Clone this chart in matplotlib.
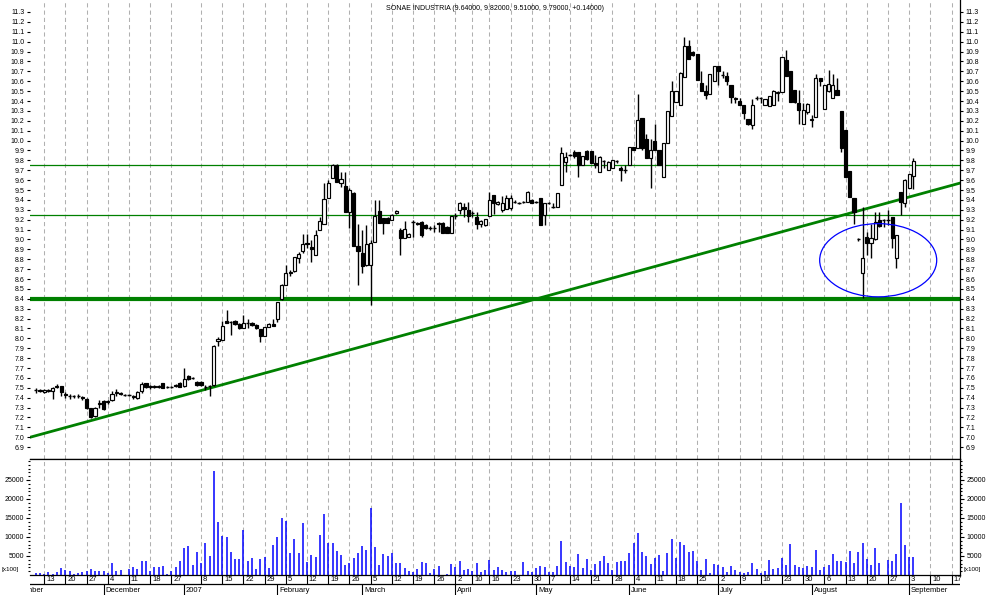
import numpy as np
import pandas as pd
import matplotlib
matplotlib.use("Agg")
import matplotlib.pyplot as plt
from matplotlib.patches import Ellipse

plt.rcParams['font.family'] = ['Liberation Sans', 'DejaVu Sans']

# ---- data ----
title = "SONAE INDUSTRIA (9.64000, 9.82000, 9.51000, 9.79000, +0.14000)"

holidays = ["2006-12-25", "2006-12-26", "2007-01-01", "2007-04-06", "2007-04-09", "2007-05-01"]
first_bar = "2006-11-09"

opens = [
    7.48, 7.48, 7.46, 7.47, 7.47, 7.51, 7.52, 7.44, 7.42, 7.42,
    7.42, 7.41, 7.39, 7.30, 7.22, 7.34, 7.37, 7.36, 7.38, 7.45,
    7.45, 7.43, 7.43, 7.42, 7.40, 7.47, 7.55, 7.51, 7.52, 7.51,
    7.55, 7.51, 7.51, 7.52, 7.55, 7.52, 7.62, 7.60, 7.56, 7.56,
    7.51, 7.52, 7.53, 7.97, 7.98, 8.18, 8.17, 8.18, 8.15, 8.10,
    8.16, 8.16, 8.14, 8.09, 8.02, 8.12, 8.15, 8.20, 8.40, 8.54,
    8.67, 8.68, 8.81, 8.88, 8.96, 8.92, 8.84, 9.10, 9.16, 9.42,
    9.62, 9.75, 9.57, 9.54, 9.28, 9.47, 8.93, 8.86, 8.74, 8.74,
    8.97, 9.29, 9.22, 9.22, 9.20, 9.27, 9.10, 9.01, 9.03, 9.18,
    9.17, 9.18, 9.15, 9.12, 9.12, 9.17, 9.17, 9.13, 9.07, 9.24,
    9.30, 9.33, 9.30, 9.27, 9.23, 9.16, 9.15, 9.24, 9.45, 9.36,
    9.30, 9.31, 9.32, 9.38, 9.37, 9.38, 9.38, 9.40, 9.38, 9.42,
    9.25, 9.37, 9.33, 9.33, 9.55, 9.78, 9.85, 9.88, 9.88, 9.75,
    9.89, 9.89, 9.77, 9.68, 9.79, 9.70, 9.72, 9.79, 9.72, 9.70,
    9.75, 9.93, 9.92, 10.23, 10.02, 9.82, 10.00, 9.90, 9.63, 9.98,
    10.25, 10.39, 10.36, 10.64, 10.96, 10.90, 10.88, 10.58, 10.50, 10.47,
    10.60, 10.75, 10.66, 10.65, 10.56, 10.42, 10.40, 10.36, 10.22, 10.16,
    10.43, 10.43, 10.36, 10.35, 10.36, 10.48, 10.49, 10.81, 10.70, 10.51,
    10.38, 10.17, 10.29, 10.21, 10.24, 10.63, 10.32, 10.50, 10.43, 10.51,
    10.30, 10.11, 9.69, 9.42, 9.00, 8.66, 9.03, 8.96, 9.00, 9.20,
    9.20, 9.20, 9.23, 8.81, 9.48, 9.37, 9.52, 9.64,
]
highs = [
    7.50, 7.49, 7.49, 7.49, 7.51, 7.54, 7.52, 7.46, 7.44, 7.43,
    7.44, 7.42, 7.40, 7.30, 7.31, 7.38, 7.38, 7.38, 7.47, 7.49,
    7.46, 7.44, 7.44, 7.43, 7.47, 7.56, 7.55, 7.53, 7.53, 7.53,
    7.55, 7.52, 7.52, 7.54, 7.56, 7.70, 7.63, 7.61, 7.57, 7.57,
    7.53, 7.53, 7.93, 8.01, 8.18, 8.29, 8.18, 8.19, 8.16, 8.24,
    8.20, 8.17, 8.15, 8.09, 8.12, 8.16, 8.20, 8.37, 8.55, 8.74,
    8.69, 8.82, 8.87, 9.06, 9.06, 8.99, 9.10, 9.23, 9.57, 9.60,
    9.76, 9.76, 9.68, 9.68, 9.52, 9.48, 9.16, 9.10, 9.15, 8.99,
    9.40, 9.40, 9.22, 9.23, 9.26, 9.30, 9.12, 9.19, 9.07, 9.20,
    9.18, 9.19, 9.16, 9.14, 9.15, 9.18, 9.18, 9.14, 9.24, 9.27,
    9.38, 9.37, 9.38, 9.29, 9.28, 9.20, 9.21, 9.48, 9.45, 9.39,
    9.44, 9.45, 9.45, 9.40, 9.38, 9.39, 9.49, 9.41, 9.39, 9.42,
    9.37, 9.38, 9.37, 9.47, 9.94, 9.88, 9.86, 9.90, 9.88, 9.84,
    9.90, 9.89, 9.85, 9.84, 9.80, 9.79, 9.80, 9.80, 9.74, 9.75,
    9.93, 9.93, 10.47, 10.23, 10.07, 10.02, 10.17, 9.90, 9.98, 10.30,
    10.60, 10.50, 10.69, 11.05, 11.02, 10.91, 10.88, 10.70, 10.56, 10.67,
    10.75, 10.75, 10.70, 10.69, 10.56, 10.44, 10.43, 10.36, 10.22, 10.42,
    10.45, 10.44, 10.42, 10.45, 10.51, 10.50, 10.85, 10.92, 10.70, 10.51,
    10.51, 10.38, 10.38, 10.26, 10.67, 10.63, 10.56, 10.71, 10.67, 10.63,
    10.30, 10.11, 9.69, 9.42, 9.01, 9.33, 9.08, 9.16, 9.28, 9.28,
    9.21, 9.30, 9.23, 9.05, 9.48, 9.61, 9.66, 9.82,
]
lows = [
    7.45, 7.46, 7.45, 7.46, 7.39, 7.50, 7.42, 7.40, 7.39, 7.40,
    7.40, 7.38, 7.29, 7.19, 7.20, 7.30, 7.28, 7.34, 7.37, 7.42,
    7.43, 7.42, 7.42, 7.39, 7.39, 7.45, 7.50, 7.49, 7.50, 7.50,
    7.50, 7.50, 7.50, 7.51, 7.51, 7.51, 7.58, 7.59, 7.52, 7.52,
    7.48, 7.42, 7.52, 7.92, 7.98, 8.16, 8.03, 8.14, 8.09, 8.10,
    8.10, 8.13, 8.09, 7.96, 8.02, 8.12, 8.13, 8.17, 8.39, 8.54,
    8.63, 8.67, 8.76, 8.86, 8.91, 8.77, 8.84, 9.10, 9.16, 9.42,
    9.62, 9.58, 9.53, 9.28, 9.12, 8.93, 8.54, 8.66, 8.73, 8.34,
    8.97, 9.17, 9.06, 9.17, 9.20, 9.26, 8.84, 9.01, 9.02, 9.03,
    9.15, 9.02, 9.11, 9.10, 9.08, 9.08, 9.07, 9.07, 9.07, 9.21,
    9.26, 9.23, 9.18, 9.23, 9.11, 9.13, 9.14, 9.24, 9.26, 9.35,
    9.28, 9.31, 9.30, 9.37, 9.36, 9.37, 9.38, 9.37, 9.37, 9.15,
    9.15, 9.36, 9.32, 9.33, 9.55, 9.68, 9.84, 9.82, 9.63, 9.75,
    9.80, 9.77, 9.72, 9.68, 9.72, 9.70, 9.72, 9.77, 9.59, 9.67,
    9.75, 9.90, 9.92, 9.90, 9.82, 9.52, 9.90, 9.75, 9.63, 9.98,
    10.25, 10.39, 10.36, 10.64, 10.82, 10.86, 10.61, 10.50, 10.42, 10.47,
    10.60, 10.56, 10.63, 10.56, 10.38, 10.38, 10.36, 10.22, 10.16, 10.12,
    10.41, 10.38, 10.36, 10.35, 10.36, 10.40, 10.49, 10.65, 10.39, 10.38,
    10.17, 10.17, 10.27, 10.14, 10.24, 10.55, 10.32, 10.49, 10.43, 10.46,
    9.88, 9.63, 9.43, 9.16, 8.98, 8.41, 8.84, 8.81, 8.99, 9.13,
    9.13, 9.15, 8.91, 8.71, 9.25, 9.33, 9.52, 9.51,
]
closes = [
    7.48, 7.47, 7.48, 7.48, 7.50, 7.52, 7.46, 7.43, 7.42, 7.42,
    7.42, 7.40, 7.30, 7.21, 7.30, 7.35, 7.29, 7.37, 7.44, 7.46,
    7.44, 7.43, 7.43, 7.41, 7.46, 7.54, 7.51, 7.52, 7.51, 7.52,
    7.50, 7.51, 7.51, 7.53, 7.51, 7.59, 7.59, 7.60, 7.53, 7.53,
    7.51, 7.52, 7.92, 7.99, 8.13, 8.16, 8.17, 8.15, 8.10, 8.16,
    8.16, 8.14, 8.10, 8.02, 8.12, 8.15, 8.13, 8.37, 8.54, 8.66,
    8.66, 8.82, 8.85, 8.95, 8.95, 8.90, 9.05, 9.19, 9.41, 9.57,
    9.75, 9.58, 9.61, 9.28, 9.50, 8.93, 8.88, 8.73, 8.95, 8.96,
    9.24, 9.17, 9.17, 9.17, 9.25, 9.29, 9.01, 9.11, 9.06, 9.18,
    9.16, 9.05, 9.12, 9.12, 9.12, 9.16, 9.07, 9.07, 9.24, 9.24,
    9.37, 9.31, 9.24, 9.27, 9.16, 9.19, 9.21, 9.40, 9.37, 9.38,
    9.37, 9.42, 9.42, 9.38, 9.37, 9.38, 9.48, 9.37, 9.38, 9.15,
    9.37, 9.37, 9.33, 9.47, 9.87, 9.83, 9.85, 9.84, 9.75, 9.84,
    9.81, 9.77, 9.75, 9.83, 9.79, 9.78, 9.80, 9.79, 9.70, 9.70,
    9.93, 9.90, 10.21, 9.92, 9.82, 9.90, 9.90, 9.75, 9.98, 10.30,
    10.50, 10.50, 10.68, 10.96, 10.82, 10.87, 10.61, 10.50, 10.46, 10.67,
    10.75, 10.70, 10.66, 10.60, 10.44, 10.43, 10.36, 10.28, 10.17, 10.36,
    10.43, 10.43, 10.42, 10.45, 10.50, 10.49, 10.85, 10.65, 10.39, 10.39,
    10.31, 10.31, 10.37, 10.22, 10.63, 10.60, 10.56, 10.57, 10.56, 10.46,
    9.92, 9.63, 9.43, 9.28, 9.00, 8.81, 8.96, 9.01, 9.18, 9.14,
    9.20, 9.20, 9.01, 9.05, 9.38, 9.60, 9.66, 9.79,
]
volumes = [
    500, 500, 260, 800, 260, 800, 1840, 1300, 1050, 260,
    500, 800, 1050, 1580, 1050, 1050, 1050, 500, 3160, 1050,
    1300, 100, 1580, 2100, 1580, 3680, 3680, 1050, 2100, 2100,
    2370, 260, 1050, 2100, 3680, 7100, 7630, 2630, 6050, 3160,
    8420, 5000, 27360, 13950, 10260, 10000, 6050, 4210, 4210, 11840,
    3680, 4470, 1580, 4210, 4740, 1840, 7890, 10000, 15000, 14200,
    5790, 9470, 5790, 13680, 3420, 5260, 4740, 10520, 16050, 8420,
    8420, 6310, 5260, 2630, 3160, 4470, 5790, 7630, 6580, 17630,
    7370, 2630, 5520, 5000, 5790, 3160, 3160, 1840, 1050, 800,
    1580, 3420, 3160, 500, 1580, 2370, 0, 260, 2890, 2100,
    3680, 1300, 1580, 1050, 3160, 800, 1300, 3950, 1300, 2100,
    1300, 800, 1050, 1050, 0, 3420, 1050, 800, 1840, 2370,
    2100, 800, 800, 2370, 8950, 3420, 2370, 2100, 5520, 1840,
    4210, 1300, 2890, 3680, 5000, 3160, 1300, 3420, 3680, 3680,
    5790, 8420, 11050, 6050, 5000, 2890, 4470, 5260, 1050, 5790,
    9470, 4470, 8680, 7890, 6050, 6310, 3680, 1300, 4210, 500,
    2890, 2630, 2100, 800, 2370, 1300, 800, 500, 800, 3160,
    1580, 500, 1050, 3950, 1580, 1840, 4470, 2630, 8160, 2630,
    2100, 1840, 2370, 2100, 6580, 1300, 2100, 2630, 5520, 3680,
    3680, 3420, 6310, 3160, 6050, 8420, 4210, 2630, 7100, 3160,
    100, 3950, 3680, 5520, 18940, 7890, 4740, 4740,
]

support_level = 8.40
resistance_levels = [9.75, 9.25]
trend_start, trend_end = 7.00, 9.57
ellipse_center = (198.7, 8.79)
ellipse_size = (27.6, 0.74)

month_names = {11: "November", 12: "December", 1: "2007", 2: "February", 3: "March",
               4: "April", 5: "May", 6: "June", 7: "July", 8: "August", 9: "September"}

# ---- trading calendar ----
cal = pd.bdate_range("2006-11-01", "2007-09-21")
cal = cal[~cal.isin(pd.to_datetime(holidays))]
shift = int(np.where(cal == pd.Timestamp(first_bar))[0][0])
pos = np.arange(len(cal)) - shift

week_pos, week_lab = [], []
month_pos, month_lab = [], []
for k in range(1, len(cal)):
    d, prev = cal[k], cal[k - 1]
    if d.month != prev.month:
        month_pos.append(pos[k])
        month_lab.append(month_names[d.month])
    if d.isocalendar()[1] != prev.isocalendar()[1] and pos[k] > 0:
        if d.year != prev.year:
            continue
        week_pos.append(pos[k])
        week_lab.append(str(d.day))
month_pos.insert(0, pos[0] - 1)
month_lab.insert(0, month_names[11])

# ---- figure ----
W, H = 994, 595
fig = plt.figure(figsize=(W / 100, H / 100), dpi=100)
x0, x1 = 30, 960
xlim = ((x0 - 35.7) / 4.24, (x1 - 35.7) / 4.24)

ax_p = fig.add_axes([x0 / W, (H - 459) / H, (x1 - x0) / W, 459 / H])
ax_v = fig.add_axes([x0 / W, (H - 575) / H, (x1 - x0) / W, 116 / H])
ax_d = fig.add_axes([x0 / W, 0, (x1 - x0) / W, 20 / H])

green = "#008000"
grid_kw = dict(color="#b0b0b0", lw=0.75, linestyles=(0, (4, 3)), zorder=0)

# price panel
ax_p.set_xlim(*xlim)
ax_p.set_ylim(11.3 - 447 / 98.9, 11.3 + 12 / 98.9)
ax_p.vlines(week_pos, 0, 1, transform=ax_p.get_xaxis_transform(), **grid_kw)

ax_p.axhline(support_level, color=green, lw=3, zorder=1)
for lvl in resistance_levels:
    ax_p.axhline(lvl, color=green, lw=0.9, zorder=1)
ax_p.plot(xlim, [trend_start, trend_end], color=green, lw=2, zorder=1)

x = np.arange(len(opens))
o, h, l, c = map(np.array, (opens, highs, lows, closes))
ax_p.vlines(x, l, h, color="black", lw=1.0, zorder=2)
bw = 0.75
for xi, oi, ci in zip(x, o, c):
    lo, hi = min(oi, ci), max(oi, ci)
    if hi - lo < 0.006:
        ax_p.hlines(oi, xi - bw / 2, xi + bw / 2, color="black", lw=1.0, zorder=3)
        continue
    face = "white" if ci > oi else "black"
    ax_p.bar(xi, hi - lo, bottom=lo, width=bw, color=face, edgecolor="black",
             linewidth=0.85, zorder=3)

ax_p.add_patch(Ellipse(ellipse_center, ellipse_size[0], ellipse_size[1],
                       fill=False, edgecolor="blue", lw=0.9, zorder=4))

yt = np.round(np.arange(6.9, 11.31, 0.1), 1)
ax_p.set_yticks(yt)
ax_p.set_yticklabels([f"{v:.1f}" for v in yt])
ax_p.tick_params(axis="y", left=True, right=True, labelleft=True, labelright=True,
                 length=2.5, width=0.8, labelsize=5, pad=1.5)
ax_p.set_xticks([])
for s in ("left", "top"):
    ax_p.spines[s].set_visible(False)
for s in ("right", "bottom"):
    ax_p.spines[s].set_linewidth(0.9)

fig.text(495 / W, 1 - 8 / H, title, ha="center", va="center", fontsize=5)

# volume panel
ax_v.set_xlim(*xlim)
ax_v.set_ylim(0, 30500)
ax_v.vlines(week_pos, 0, 1, transform=ax_v.get_xaxis_transform(), **grid_kw)
ax_v.vlines(x, 0, volumes, color="blue", lw=1.1, zorder=2)
ax_v.set_yticks([5000, 10000, 15000, 20000, 25000])
ax_v.set_yticks(np.arange(1000, 30001, 1000), minor=True)
ax_v.tick_params(axis="y", which="both", left=True, right=True, labelleft=True,
                 labelright=True, labelsize=5, pad=1.5, width=0.8)
ax_v.tick_params(axis="y", which="major", length=3)
ax_v.tick_params(axis="y", which="minor", length=1.5)
ax_v.set_xticks([])
ax_v.spines["left"].set_visible(False)
for s in ("right", "bottom", "top"):
    ax_v.spines[s].set_linewidth(0.9)
fig.text(2 / W, 1 - 570 / H, "[x100]", fontsize=4.5, va="center")
fig.text(963 / W, 1 - 569 / H, "[x100]", fontsize=4.5, va="center")

# date strip
ax_d.set_xlim(*xlim)
ax_d.set_ylim(0, 20)
ax_d.axis("off")
ax_d.axhline(11, color="black", lw=0.9)
ax_d.vlines(week_pos, 11, 20, color="black", lw=0.8)
for p, t in zip(week_pos, week_lab):
    ax_d.text(p + 0.45, 15.3, t, fontsize=5.5, va="center", ha="left", clip_on=False)
ax_d.vlines(month_pos, 0, 11, color="black", lw=0.8)
for p, t in zip(month_pos, month_lab):
    ax_d.text(p + 0.45, 5, t, fontsize=5.5, va="center", ha="left", clip_on=True)

fig.savefig("out.png", dpi=100)
